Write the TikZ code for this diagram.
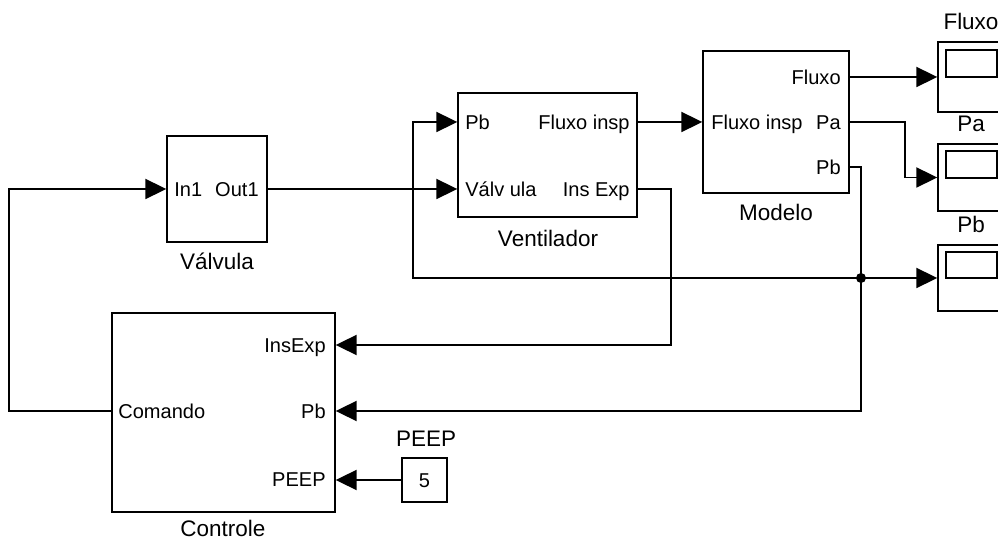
\documentclass[tikz,border=0pt]{standalone}
\usepackage{fontspec}
\setmainfont{Liberation Sans}
\usetikzlibrary{arrows.meta}

\tikzset{
  blk/.style={rectangle,draw,line width=0.8pt,inner sep=0pt},
  port/.style={font=\fontsize{11.4}{12}\selectfont,inner sep=0pt,text height=8.2pt,text depth=0pt},
  title/.style={font=\fontsize{12.8}{14}\selectfont,inner sep=0pt,text height=9.2pt,text depth=0pt},
  wire/.style={line width=1.1pt},
  sig/.style={wire,-{Triangle[length=0.42cm,width=0.4cm]}}
}

\begin{document}
\begin{tikzpicture}[x=0.02cm,y=-0.02cm]
        \clip (0,0) rectangle (998,540);

        \node at (217,189) [blk,minimum width=2cm,minimum height=2.12cm] (valv) {};
        \node at (547.5,155) [blk,minimum width=3.58cm,minimum height=2.48cm] (vent) {};
        \node at (776,122) [blk,minimum width=2.92cm,minimum height=2.84cm] (model) {};
        \node at (223.5,412.5) [blk,minimum width=4.46cm,minimum height=3.98cm] (ctrl) {};
        \node at (424.5,480) [blk,line width=0.6pt,minimum width=0.9cm,minimum height=0.88cm,port] (peep) {5};

        \node at (971,77) [blk,minimum width=1.32cm,minimum height=1.4cm] (scfluxo) {};
        \node at (971,177.5) [blk,minimum width=1.32cm,minimum height=1.34cm] (scpa) {};
        \node at (971,278) [blk,minimum width=1.32cm,minimum height=1.32cm] (scpb) {};
        \draw[line width=0.8pt] (946,50) rectangle (997,77);
        \draw[line width=0.8pt] (946,151) rectangle (997,178);
        \draw[line width=0.8pt] (946,252) rectangle (997,278);

        \node at (174,189) [port,anchor=west] (valvin) {In1};
        \node at (259,189) [port,anchor=east] (valvout) {Out1};
        \node at (465,122) [port,anchor=west] (ventpb) {Pb};
        \node at (465,189) [port,anchor=west] (ventvalv) {Válv ula};
        \node at (630,122) [port,anchor=east] (ventfi) {Fluxo insp};
        \node at (630,189) [port,anchor=east] (ventie) {Ins Exp};
        \node at (711,122) [port,anchor=west] (modfi) {Fluxo insp};
        \node at (841,77) [port,anchor=east] (modfluxo) {Fluxo};
        \node at (841,122) [port,anchor=east] (modpa) {Pa};
        \node at (841,167) [port,anchor=east] (modpb) {Pb};
        \node at (118,411) [port,anchor=west] (ctrlcmd) {Comando};
        \node at (326,345) [port,anchor=east] (ctrlie) {InsExp};
        \node at (326,411) [port,anchor=east] (ctrlpb) {Pb};
        \node at (326,479) [port,anchor=east] (ctrlpeep) {PEEP};

        \node at (217,261) [title] (valvname) {Válvula};
        \node at (548,238) [title] (ventname) {Ventilador};
        \node at (776,212) [title] (modname) {Modelo};
        \node at (223,528) [title] (ctrlname) {Controle};
        \node at (426,438) [title] (peepname) {PEEP};
        \node at (971,21) [title] (fluxoname) {Fluxo};
        \node at (971,123) [title] (paname) {Pa};
        \node at (971,224) [title] (pbname) {Pb};

        \coordinate (jct) at (861,278);

        \draw[sig] (ctrl.west |- ctrlcmd) -- ++(-102,0) |- (valv.west);
        \draw[sig] (valv.east) -- (valv.east -| vent.west);
        \draw[sig] (vent.east |- ventfi) -- (model.west |- modfi);
        \draw[sig] (model.east |- modfluxo) -- (scfluxo.west);
        \draw[sig] (model.east |- modpa) -- ++(55,0) |- (scpa.west);
        \draw[sig] (model.east |- modpb) -| (jct) |- (ctrl.east |- ctrlpb);
        \draw[sig] (jct) -- (scpb.west);
        \draw[sig] (jct) -- (413,278) |- (vent.west |- ventpb);
        \draw[sig] (vent.east |- ventie) -- ++(33,0) |- (ctrl.east |- ctrlie);
        \draw[sig] (peep.west) -- (ctrl.east |- peep);
        \fill (jct) circle (0.1cm);
\end{tikzpicture}
\end{document}
